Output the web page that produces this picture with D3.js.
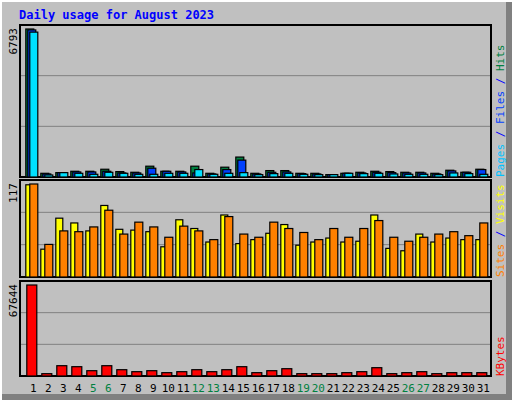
<!DOCTYPE html>
<html><head><meta charset="utf-8">
<script src="https://cdn.jsdelivr.net/npm/d3@7.9.0/dist/d3.min.js"></script>
<style>body{margin:0;background:#c0c0c0}svg{display:block}text{font-family:"DejaVu Sans Mono",monospace}</style>
</head><body><svg width="512" height="400"></svg>
<script>
// Daily stats for August 2023
const days = d3.range(1, 32);
const weekend = [5, 6, 12, 13, 19, 20, 26, 27];
const hits = [6793,170,200,263,263,356,248,217,496,263,263,496,170,450,915,170,294,294,170,170,109,170,217,263,248,217,217,170,310,217,356];
const files = [6750,140,200,232,232,263,186,186,403,263,232,186,140,341,775,140,217,232,155,140,109,170,186,217,200,186,186,140,279,217,341];
const pages = [6650,93,200,170,124,217,170,124,124,170,170,341,124,170,200,109,155,170,124,109,109,170,155,170,140,124,124,109,186,155,124];
const visits = [116,35,74,68,58,90,60,59,57,38,72,61,44,78,42,47,55,66,40,44,49,44,45,78,36,33,54,44,49,47,47];
const sites = [117,41,58,57,63,84,54,69,63,50,64,58,47,76,54,50,69,61,56,47,61,50,61,71,50,45,50,54,57,52,68];
const kbytes = [67644,1730,7660,6920,3950,7660,4690,3210,3950,2470,3210,4690,3210,4690,6920,2470,3950,5430,1730,1730,1730,2470,3210,6180,1730,2470,3210,1730,2470,2470,2470];

const svg = d3.select('svg');
const W = 512, H = 400;

// 3d-ish frame
svg.append('rect').attr('width', W).attr('height', H).attr('fill', '#c0c0c0');
svg.append('path').attr('d', `M0,${H}V0H${W}`).attr('stroke', '#fff').attr('stroke-width', 4).attr('fill', 'none');
svg.append('path').attr('d', `M2,${H - 3}H${W - 3}V2`).attr('stroke', '#808080').attr('stroke-width', 6).attr('fill', 'none');

svg.append('text').attr('x', 19).attr('y', 19).attr('fill', '#0000ff')
  .attr('font-weight', 'bold').attr('font-size', 12).text('Daily usage for August 2023');

const x = d3.scaleBand().domain(days).range([23.8, 488.8]);

const panels = [
  { top: 25, bottom: 177, max: 6793, label: [['Pages', '#00c0ff'], [' / ', '#0000ff'], ['Files', '#0040ff'], [' / ', '#0000ff'], ['Hits', '#008040']],
    series: [[hits, '#008040', 0, 8], [files, '#0040ff', 2, 8], [pages, '#00e0ff', 4, 8]] },
  { top: 180, bottom: 277, max: 117, label: [['Sites', '#ff8000'], [' / ', '#0000ff'], ['Visits', '#ffff00']],
    series: [[visits, '#ffff00', 0, 7], [sites, '#ff8000', 4, 8]] },
  { top: 281, bottom: 376, max: 67644, label: [['KBytes', '#ff0000']],
    series: [[kbytes, '#ff0000', 1, 10]] }
];

panels.forEach(p => {
  const g = svg.append('g');
  g.append('rect').attr('x', 20).attr('y', p.top).attr('width', 471).attr('height', p.bottom - p.top)
    .attr('fill', '#c0c0c0').attr('stroke', '#000').attr('stroke-width', 2);
  const y = d3.scaleLinear().domain([0, p.max]).range([p.bottom, p.top + 4]);
  const h = p.bottom - p.top;
  [1 / 3, 2 / 3].forEach(f => {
    g.append('line').attr('x1', 21).attr('x2', 490)
      .attr('y1', p.bottom - h * f).attr('y2', p.bottom - h * f).attr('stroke', '#808080');
  });
  p.series.forEach(([vals, color, off, w]) => {
    g.selectAll(null).data(vals).join('rect')
      .attr('x', (d, i) => x(days[i]) + 1.5 + off + 0.5)
      .attr('y', d => y(d))
      .attr('width', w)
      .attr('height', d => p.bottom - y(d))
      .attr('fill', color).attr('stroke', '#000').attr('stroke-width', 1.2);
  });
  g.append('text').attr('transform', `translate(17,${p.top + 3}) rotate(-90)`)
    .attr('text-anchor', 'end').attr('font-size', 11).text(p.max);
  const t = g.append('text').attr('transform', `translate(504,${p.bottom}) rotate(-90)`)
    .attr('font-size', 11);
  p.label.forEach(([s, c]) => t.append('tspan').attr('fill', c).text(s));
});

svg.selectAll('.day').data(days).join('text')
  .attr('x', d => x(d) + x.bandwidth() / 2 + 2).attr('y', 392)
  .attr('text-anchor', 'middle').attr('font-size', 11)
  .attr('fill', d => weekend.includes(d) ? '#008040' : '#000').text(d => d);
</script></body></html>
